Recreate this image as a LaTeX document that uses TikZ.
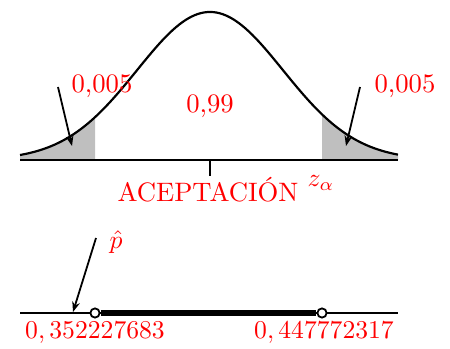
\documentclass[tikz,border=0pt]{standalone}
\usetikzlibrary{arrows.meta}
\begin{document}
\begin{tikzpicture}[x=0.39pt,y=-0.39pt,
  lbl/.style={text=red,inner sep=0pt,font=\fontsize{10.4}{12.5}\selectfont},
  curve/.style={line width=0.85pt},
  axisline/.style={line width=0.8pt},
  pointer/.style={line width=0.7pt,-{Stealth[length=4pt,width=3pt]}},
  endpt/.style={circle,draw,fill=white,line width=0.7pt,minimum size=3.6pt,inner sep=0pt}]
\useasboundingbox (0,0) rectangle (450,348);
% shaded tails
\fill[gray!50] (20,160) -- plot[domain=20:95,samples=40] (\x,{160-148*exp(-0.5*((\x-210)/73)^2)}) -- (95,160) -- cycle;
\fill[gray!50] (322,160) -- plot[domain=322:398,samples=40] (\x,{160-148*exp(-0.5*((\x-210)/73)^2)}) -- (398,160) -- cycle;
% curve
\draw[curve] plot[domain=20:398,samples=120,smooth] (\x,{160-148*exp(-0.5*((\x-210)/73)^2)});
% axis
\coordinate (axL) at (20,160);
\coordinate (axR) at (398,160);
\coordinate (tickT) at (210,160);
\coordinate (tickB) at (210,176);
\draw[axisline] (axL) -- (axR);
\draw[axisline] (tickT) -- (tickB);
% labels
\node[lbl] (pl) at (102,86) {0,005};
\node[lbl] (pc) at (210,106) {0,99};
\node[lbl] (pr) at (405,86) {0,005};
\node[lbl] (acc) at (208,190) {ACEPTACIÓN};
\node[lbl] (za) at (321,183) {$z_\alpha$};
% arrows
\coordinate (a1s) at (58,87);
\coordinate (a1e) at (72,146);
\coordinate (a2s) at (360,87);
\coordinate (a2e) at (346,146);
\draw[pointer] (a1s) -- (a1e);
\draw[pointer] (a2s) -- (a2e);
% bottom line
\coordinate (bL) at (20,313);
\coordinate (bR) at (398,313);
\draw[axisline] (bL) -- (bR);
\node[endpt] (e1) at (95,313) {};
\node[endpt] (e2) at (322,313) {};
\draw[line width=2pt] (e1) -- (e2);
\node[lbl] (ph) at (116,242) {$\hat p$};
\coordinate (a3s) at (96,238);
\coordinate (a3e) at (73,312);
\draw[pointer] (a3s) -- (a3e);
\node[lbl] (v1) at (95,333) {$0,352227683$};
\node[lbl] (v2) at (324,333) {$0,447772317$};
\end{tikzpicture}
\end{document}
